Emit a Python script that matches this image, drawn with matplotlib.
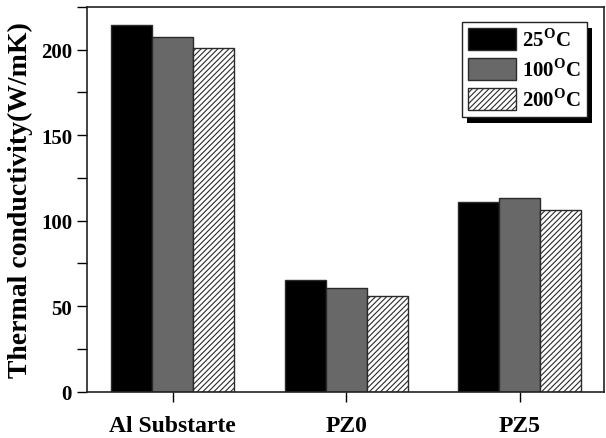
import matplotlib
matplotlib.use("Agg")
import matplotlib.pyplot as plt
from matplotlib.patches import Rectangle
from matplotlib.ticker import MultipleLocator
import numpy as np

# fonts: bold Times-like everywhere
plt.rcParams['font.family'] = 'Liberation Serif'
plt.rcParams['font.weight'] = 'bold'
plt.rcParams['mathtext.fontset'] = 'custom'
plt.rcParams['mathtext.rm'] = 'Liberation Serif:bold'
plt.rcParams['mathtext.bf'] = 'Liberation Serif:bold'
plt.rcParams['hatch.linewidth'] = 0.8

# data
samples = ['Al Substarte', 'PZ0', 'PZ5']
temps = ['25$^{\\mathrm{O}}$C', '100$^{\\mathrm{O}}$C', '200$^{\\mathrm{O}}$C']
k_25 = [214.5, 65.5, 111.0]
k_100 = [207.5, 60.5, 113.5]
k_200 = [201.0, 56.0, 106.5]

fig = plt.figure(figsize=(6.06, 4.39), dpi=100)
ax = fig.add_axes([0.143, 0.1055, 0.854, 0.8765])

x = np.arange(len(samples))
w = 0.236
edge = '#2a2a2a'
ax.bar(x - w, k_25, w, color='black', edgecolor=edge, linewidth=1, label=temps[0])
ax.bar(x, k_100, w, color='#686868', edgecolor=edge, linewidth=1, label=temps[1])
ax.bar(x + w, k_200, w, color='white', edgecolor=edge, linewidth=1, hatch='//////', label=temps[2])

ax.set_xlim(-0.497, 2.487)
ax.set_ylim(0, 225)
ax.set_xticks(x)
ax.set_xticklabels(samples, fontsize=17, fontweight='bold')
ax.yaxis.set_major_locator(MultipleLocator(50))
ax.yaxis.set_minor_locator(MultipleLocator(25))
ax.tick_params(axis='y', which='both', direction='out', length=7, width=1, labelsize=15, right=False)
ax.tick_params(axis='x', direction='out', length=7, width=1, pad=10, top=False)
for lbl in ax.get_yticklabels():
    lbl.set_fontweight('bold')
ax.set_ylabel('Thermal conductivity(W/mK)', fontsize=20, fontweight='bold', labelpad=6)
for s in ax.spines.values():
    s.set_linewidth(1.2)
    s.set_color('#222222')

leg = ax.legend(loc='upper right', bbox_to_anchor=(0.967, 0.961), fancybox=False, framealpha=1,
                edgecolor='#222222', prop={'size': 15, 'weight': 'bold'},
                handlelength=2.3, handleheight=1.2, handletextpad=0.3, labelspacing=0.35,
                borderpad=0.3, borderaxespad=0)
leg.get_frame().set_linewidth(1.0)
leg.set_zorder(5)

# black drop shadow behind the legend box
fig.canvas.draw()
bb = leg.get_window_extent()
sh = Rectangle((bb.x0 + 5, bb.y0 - 6), bb.width, bb.height, transform=None,
               facecolor='black', edgecolor='none', zorder=4)
ax.add_artist(sh)

fig.savefig('out.png', dpi=100)
